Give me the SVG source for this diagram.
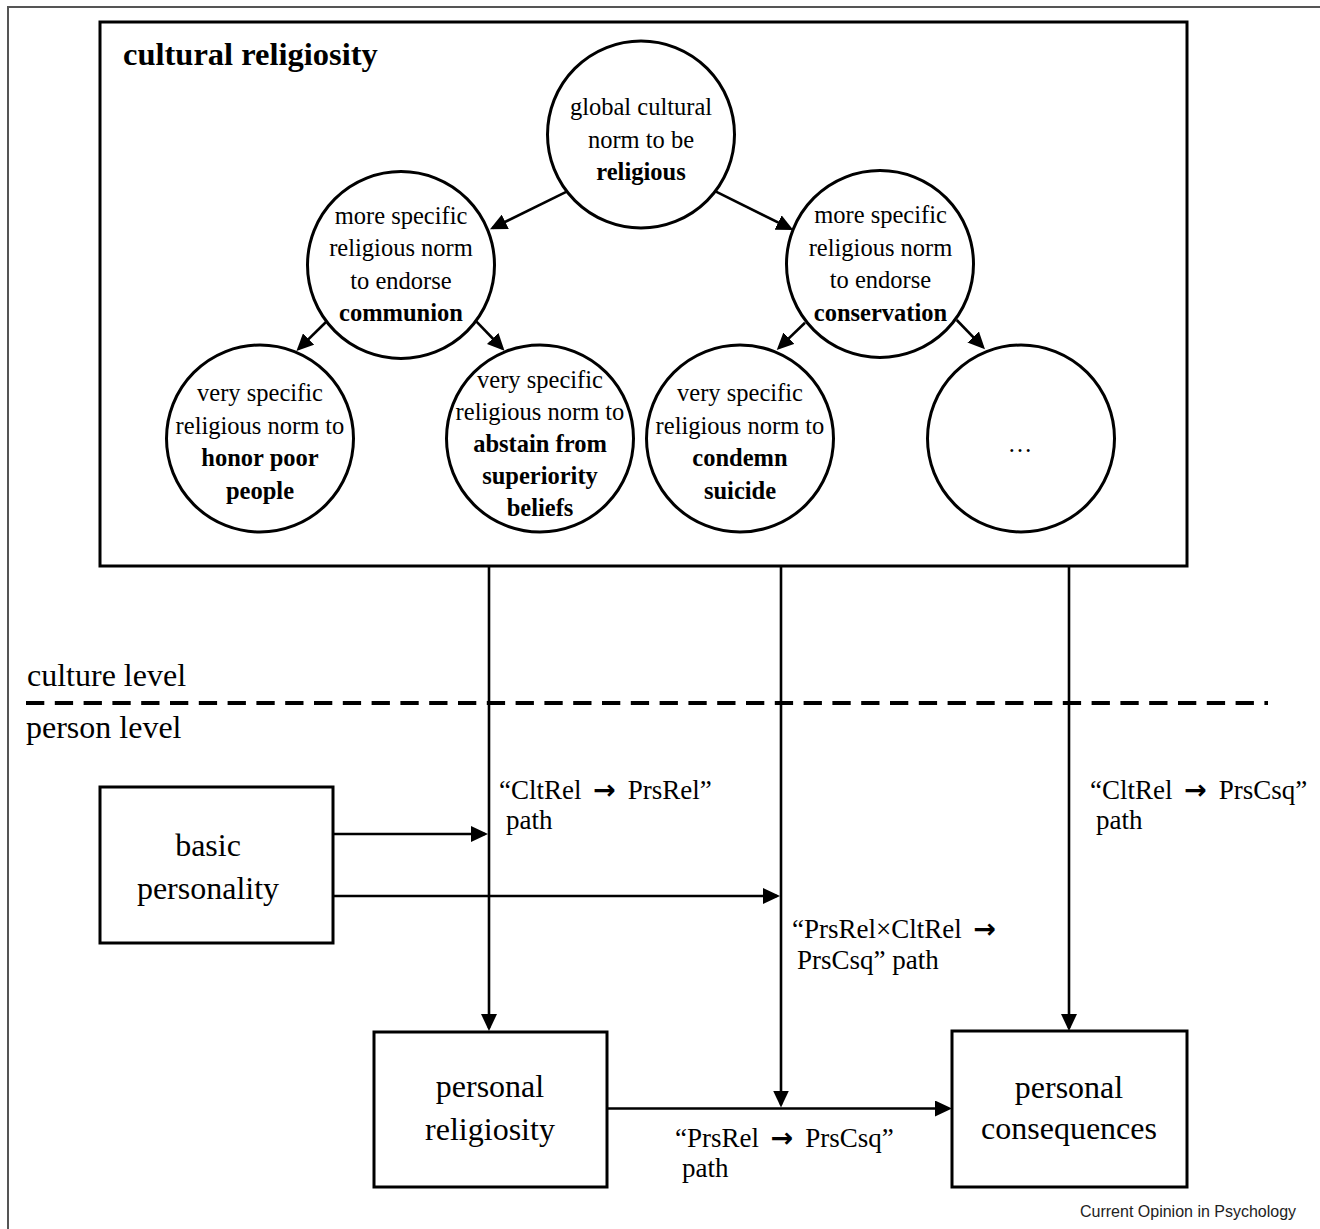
<svg xmlns="http://www.w3.org/2000/svg" width="1320" height="1229" viewBox="0 0 1320 1229">
<style>
.t{font-family:"Liberation Serif","Times New Roman",serif;fill:#000}
.c{font-size:24.5px;text-anchor:middle}
.b{font-weight:bold}
.big{font-size:32px;text-anchor:middle}
.lvl{font-size:32px}
.lab{font-size:27px}
.ws{word-spacing:5px}
.ar{font-family:"DejaVu Sans",sans-serif;font-weight:bold}
.node{fill:#fff;stroke:#000;stroke-width:3}
.ln{stroke:#000;stroke-width:2.6;fill:none}
</style>
<defs>
<marker id="ah" markerUnits="userSpaceOnUse" markerWidth="17" markerHeight="16" refX="14" refY="8" orient="auto" viewBox="0 0 17 16">
<path d="M0,0 L17,8 L0,16 z" fill="#000"/>
</marker>
</defs>
<rect width="1320" height="1229" fill="#fff"/>
<rect x="8" y="7" width="1340" height="1250" fill="none" stroke="#555" stroke-width="2"/>

<g id="cultural-religiosity">
<rect x="100" y="22" width="1087" height="544" fill="none" stroke="#000" stroke-width="3"/>
<text class="t b" x="123" y="65" font-size="32.5">cultural religiosity</text>
</g>

<g id="connectors">
<line class="ln" x1="566.7" y1="191.7" x2="492.7" y2="228" marker-end="url(#ah)"/>
<line class="ln" x1="716" y1="191.7" x2="790.6" y2="228.7" marker-end="url(#ah)"/>
<line class="ln" x1="326" y1="322" x2="298.6" y2="348.9" marker-end="url(#ah)"/>
<line class="ln" x1="476.5" y1="321.7" x2="502.4" y2="348.5" marker-end="url(#ah)"/>
<line class="ln" x1="805" y1="322.7" x2="778.9" y2="347.9" marker-end="url(#ah)"/>
<line class="ln" x1="956.7" y1="320" x2="982.9" y2="347.1" marker-end="url(#ah)"/>
<line class="ln" x1="489" y1="566" x2="489" y2="1028" marker-end="url(#ah)"/>
<line class="ln" x1="781" y1="566" x2="781" y2="1104.5" marker-end="url(#ah)"/>
<line class="ln" x1="1069" y1="566" x2="1069" y2="1028" marker-end="url(#ah)"/>
<line class="ln" x1="333" y1="834" x2="485" y2="834" marker-end="url(#ah)"/>
<line class="ln" x1="333" y1="896" x2="777" y2="896" marker-end="url(#ah)"/>
<line class="ln" x1="607" y1="1108.5" x2="949" y2="1108.5" marker-end="url(#ah)"/>
</g>

<g id="global-norm">
<circle class="node" cx="641" cy="134.5" r="93.5"/>
<text class="t c" x="641" y="115">global cultural</text>
<text class="t c" x="641" y="147.5">norm to be</text>
<text class="t c b" x="641" y="180">religious</text>
</g>

<g id="communion-norm">
<circle class="node" cx="401" cy="265" r="93.5"/>
<text class="t c" x="401" y="223.5">more specific</text>
<text class="t c" x="401" y="256">religious norm</text>
<text class="t c" x="401" y="288.5">to endorse</text>
<text class="t c b" x="401" y="321">communion</text>
</g>

<g id="conservation-norm">
<circle class="node" cx="880" cy="264" r="93.5"/>
<text class="t c" x="880.5" y="223">more specific</text>
<text class="t c" x="880.5" y="255.5">religious norm</text>
<text class="t c" x="880.5" y="288">to endorse</text>
<text class="t c b" x="880.5" y="320.5">conservation</text>
</g>

<g id="honor-poor">
<circle class="node" cx="260" cy="438.5" r="93.5"/>
<text class="t c" x="260" y="401">very specific</text>
<text class="t c" x="260" y="433.5">religious norm to</text>
<text class="t c b" x="260" y="466">honor poor</text>
<text class="t c b" x="260" y="498.5">people</text>
</g>

<g id="abstain">
<circle class="node" cx="540" cy="438.5" r="93.5"/>
<text class="t c" x="540" y="387.5">very specific</text>
<text class="t c" x="540" y="419.5">religious norm to</text>
<text class="t c b" x="540" y="451.5">abstain from</text>
<text class="t c b" x="540" y="484">superiority</text>
<text class="t c b" x="540" y="516">beliefs</text>
</g>

<g id="condemn-suicide">
<circle class="node" cx="740" cy="438.5" r="93.5"/>
<text class="t c" x="740" y="401">very specific</text>
<text class="t c" x="740" y="433.5">religious norm to</text>
<text class="t c b" x="740" y="466">condemn</text>
<text class="t c b" x="740" y="498.5">suicide</text>
</g>

<g id="more-norms">
<circle class="node" cx="1021" cy="438.5" r="93.5"/>
<text class="t c" x="1020" y="452">…</text>
</g>

<g id="levels">
<text class="t lvl" x="27" y="686">culture level</text>
<line x1="26" y1="703" x2="1268" y2="703" stroke="#000" stroke-width="4" stroke-dasharray="18.3 10.5"/>
<text class="t lvl" x="26" y="738">person level</text>
</g>

<g id="basic-personality">
<rect class="node" x="100" y="787" width="233" height="156"/>
<text class="t big" x="208" y="856">basic</text>
<text class="t big" x="208" y="899">personality</text>
</g>

<g id="personal-religiosity">
<rect class="node" x="374" y="1032" width="233" height="155"/>
<text class="t big" x="490" y="1097">personal</text>
<text class="t big" x="490" y="1140">religiosity</text>
</g>

<g id="personal-consequences">
<rect class="node" x="952" y="1031" width="235" height="156"/>
<text class="t big" x="1069" y="1098">personal</text>
<text class="t big" x="1069" y="1139">consequences</text>
</g>

<g id="path-labels">
<text class="t lab ws" x="499" y="799">“CltRel <tspan class="ar">→</tspan> PrsRel”</text>
<text class="t lab" x="506" y="829">path</text>
<text class="t lab ws" x="1090" y="799">“CltRel <tspan class="ar">→</tspan> PrsCsq”</text>
<text class="t lab" x="1096" y="829">path</text>
<text class="t lab ws" x="792" y="938">“PrsRel×CltRel <tspan class="ar">→</tspan></text>
<text class="t lab" x="797" y="969">PrsCsq” path</text>
<text class="t lab ws" x="675" y="1147">“PrsRel <tspan class="ar">→</tspan> PrsCsq”</text>
<text class="t lab" x="682" y="1177">path</text>
</g>

<text x="1080" y="1217" font-family="'Liberation Sans',Arial,sans-serif" font-size="16" fill="#222">Current Opinion in Psychology</text>
</svg>
